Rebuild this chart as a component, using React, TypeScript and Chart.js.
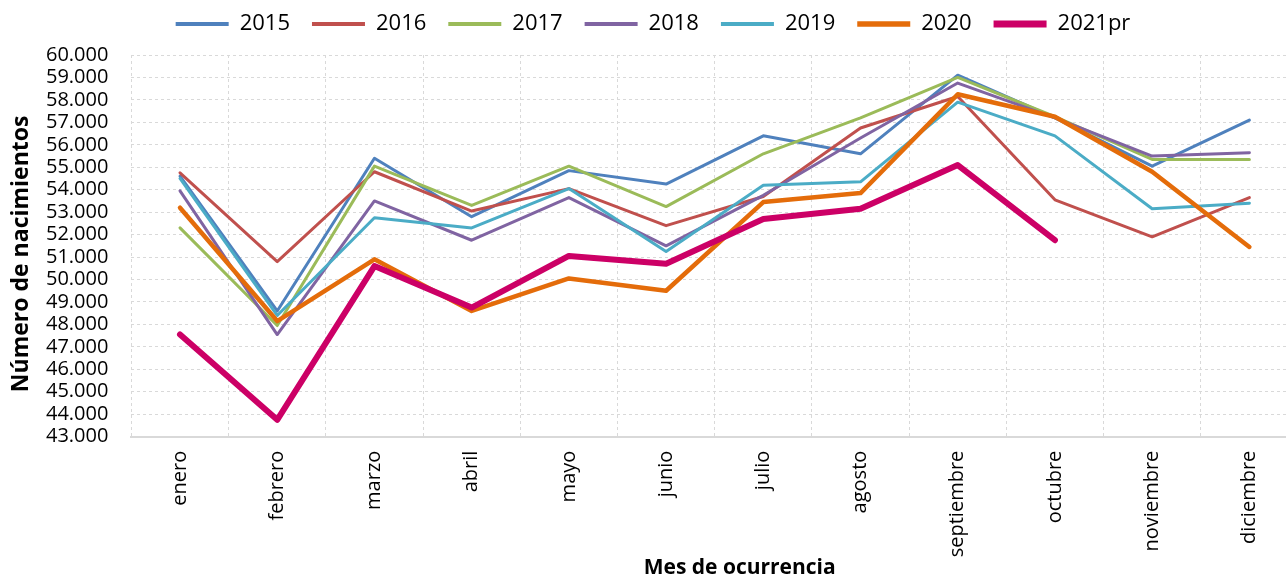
import { useEffect, useRef } from 'react';
import { Chart, registerables } from 'chart.js';

Chart.register(...registerables);

const months = ['enero', 'febrero', 'marzo', 'abril', 'mayo', 'junio', 'julio', 'agosto', 'septiembre', 'octubre', 'noviembre', 'diciembre'];

const seriesLabels = ['2015', '2016', '2017', '2018', '2019', '2020', '2021pr'];

const y2015 = [54600, 48600, 55400, 52800, 54850, 54250, 56400, 55600, 59100, 57200, 55050, 57100];
const y2016 = [54750, 50800, 54800, 53050, 54050, 52400, 53700, 56750, 58150, 53550, 51900, 53650];
const y2017 = [52300, 47950, 55050, 53300, 55050, 53250, 55600, 57200, 59000, 57250, 55350, 55350];
const y2018 = [53950, 47550, 53500, 51750, 53650, 51500, 53750, 56300, 58750, 57200, 55500, 55650];
const y2019 = [54500, 48400, 52750, 52300, 54050, 51250, 54200, 54350, 57900, 56400, 53150, 53400];
const y2020 = [53200, 48150, 50900, 48600, 50050, 49500, 53450, 53850, 58250, 57250, 54800, 51450];
const y2021pr = [47550, 43750, 50600, 48750, 51050, 50700, 52700, 53150, 55100, 51750, null, null];

const seriesValues = [y2015, y2016, y2017, y2018, y2019, y2020, y2021pr];
const seriesColors = ['#4F81BD', '#C0504D', '#9BBB59', '#8064A2', '#4BACC6', '#E46C0A', '#CC0066'];
const seriesWidths = [3, 3, 3, 3, 3, 4.5, 6];

const yMin = 43000;
const yMax = 60000;
const yStep = 1000;

const yTitle = 'Número de nacimientos';
const xTitle = 'Mes de ocurrencia';

const FONT = "'Open Sans', 'Noto Sans', sans-serif";

const fmt = (v: number | string) => String(Math.round(Number(v))).replace(/\B(?=(\d{3})+(?!\d))/g, '.');

// Draws the two axis titles in the space reserved by the scales (offset like the original layout)
const axisTitlesPlugin = {
  id: 'axisTitles',
  afterDraw(chart: any) {
    const { ctx, chartArea } = chart;
    ctx.save();
    ctx.fillStyle = '#000';
    ctx.textAlign = 'center';
    ctx.textBaseline = 'middle';
    ctx.font = `bold 21px ${FONT}`;
    ctx.fillText(xTitle, (chartArea.left + chartArea.right) / 2 + 25, chart.height - 10);
    ctx.translate(21, (chartArea.top + chartArea.bottom) / 2 + 8);
    ctx.rotate(-Math.PI / 2);
    ctx.font = `bold 23px ${FONT}`;
    ctx.fillText(yTitle, 0, 0);
    ctx.restore();
  },
};

export default function App() {
  const ref = useRef<HTMLCanvasElement>(null);

  useEffect(() => {
    if (!ref.current) return;
    const n = seriesLabels.length;
    const chart = new Chart(ref.current, {
      type: 'line',
      data: {
        labels: months,
        datasets: seriesLabels.map((label, i) => ({
          label,
          data: seriesValues[i],
          borderColor: seriesColors[i],
          backgroundColor: seriesColors[i],
          borderWidth: seriesWidths[i],
          borderCapStyle: 'round',
          borderJoinStyle: 'round',
          pointRadius: 0,
          pointHoverRadius: 0,
          tension: 0,
          fill: false,
          spanGaps: false,
          order: n - 1 - i,
        })),
      },
      plugins: [axisTitlesPlugin],
      options: {
        responsive: false,
        animation: false,
        layout: { padding: { top: -9, left: 8, right: 2, bottom: 0 } },
        plugins: {
          tooltip: { enabled: false },
          title: {
            display: true,
            text: '',
            weight: 500,
            padding: 0,
            font: { size: 10, lineHeight: 1 },
          },
          legend: {
            position: 'top',
            align: 'center',
            labels: {
              usePointStyle: true,
              pointStyle: 'line',
              pointStyleWidth: 53,
              padding: 22,
              color: '#000',
              font: { family: FONT, size: 22 },
              sort: (a: any, b: any) => a.datasetIndex - b.datasetIndex,
              generateLabels: (c: any) => {
                const items = Chart.defaults.plugins.legend.labels.generateLabels(c);
                return items.map((it: any) => ({ ...it, lineWidth: seriesWidths[it.datasetIndex] + 1 }));
              },
            },
          },
        },
        scales: {
          x: {
            type: 'category',
            offset: true,
            grid: { display: true, offset: true, color: '#d9d9d9', lineWidth: 1, drawTicks: false },
            border: { display: true, color: '#d9d9d9', width: 2, dash: [3, 3] },
            ticks: {
              autoSkip: false,
              minRotation: 90,
              maxRotation: 90,
              padding: 14,
              color: '#000',
              font: { family: FONT, size: 20 },
            },
            title: { display: false, text: xTitle },
            afterFit: (scale: any) => {
              scale.height = 141.3;
            },
          },
          y: {
            type: 'linear',
            min: yMin,
            max: yMax,
            grid: { display: true, color: '#d9d9d9', lineWidth: 1, drawTicks: false },
            border: { display: false, dash: [3, 3] },
            ticks: {
              stepSize: yStep,
              autoSkip: false,
              padding: 23,
              color: '#000',
              font: { family: FONT, size: 20 },
              callback: (v: any) => fmt(v),
            },
            title: { display: false, text: yTitle },
            afterFit: (scale: any) => {
              scale.width = 123.4;
            },
          },
        },
      },
    } as any);
    return () => chart.destroy();
  }, []);

  return (
    <div style={{ position: 'fixed', left: 0, top: 0, width: 1286, height: 578, overflow: 'hidden', background: '#fff' }}>
      <canvas ref={ref} width={1300} height={578} style={{ display: 'block', width: 1300, height: 578 }} />
    </div>
  );
}
